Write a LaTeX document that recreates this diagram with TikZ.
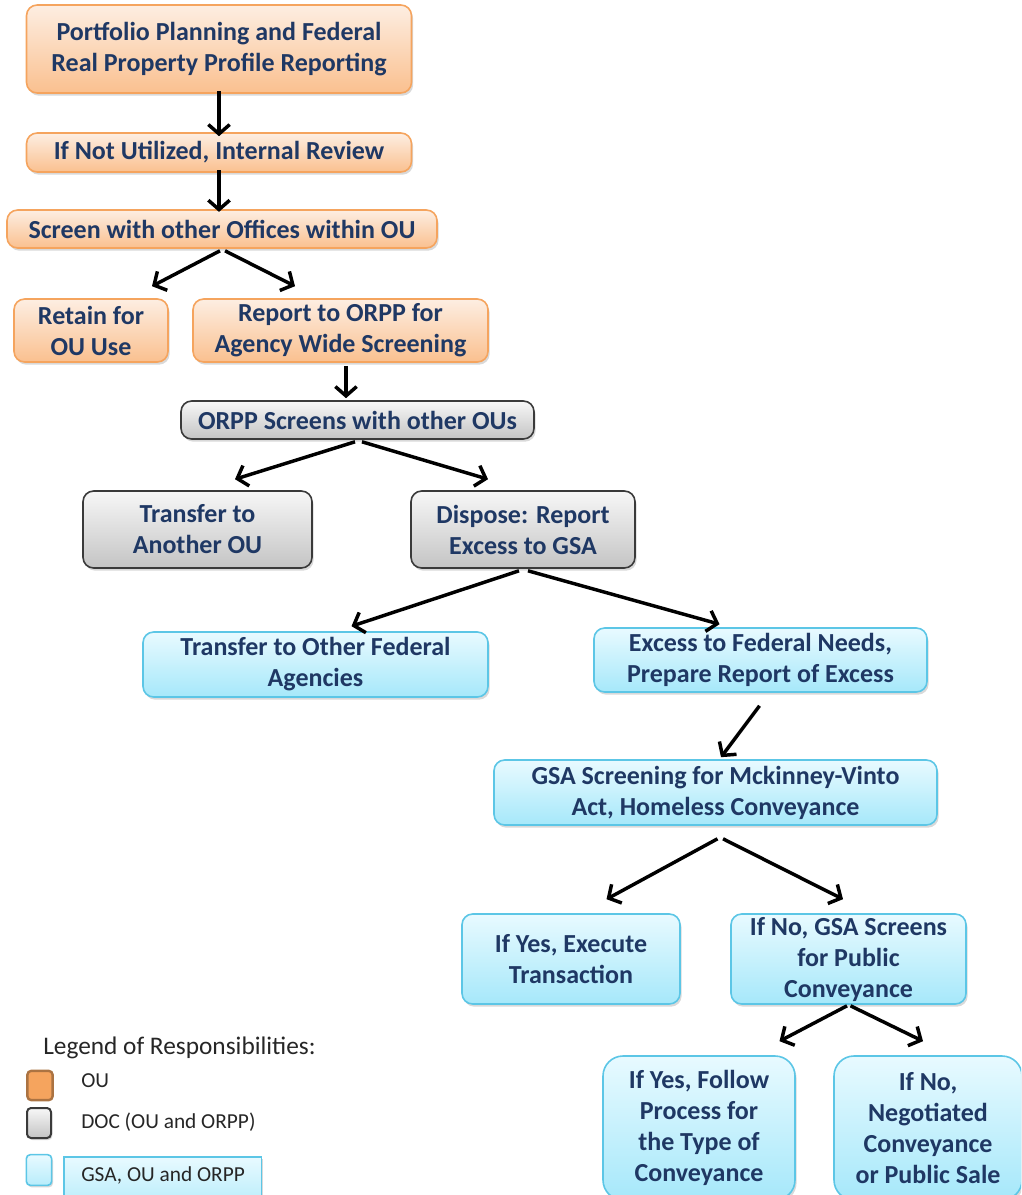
\documentclass[tikz,border=0pt]{standalone}
\usepackage{fontspec}
\setmainfont{Carlito}
\usetikzlibrary{arrows.meta,shadows}

\definecolor{txtblue}{HTML}{1F3864}
\definecolor{ouline}{HTML}{F5A45E}
\definecolor{outop}{HTML}{FDEEE2}
\definecolor{oubot}{HTML}{FAC08F}
\definecolor{docline}{HTML}{3A3A3A}
\definecolor{doctop}{HTML}{F7F7F7}
\definecolor{docbot}{HTML}{C4C4C4}
\definecolor{gsaline}{HTML}{5CC6E6}
\definecolor{gsatop}{HTML}{E8FAFF}
\definecolor{gsabot}{HTML}{A6E8FA}

\tikzset{
  box/.style={rectangle, rounded corners=8pt, align=center, inner sep=1pt,
    font=\fontsize{19.5}{23.25}\selectfont\bfseries, text=txtblue, line width=1.2pt,
    drop shadow={opacity=0.3, shadow xshift=1.2pt, shadow yshift=-2pt}},
  ouBox/.style={box, draw=ouline, top color=outop, bottom color=oubot},
  docBox/.style={box, draw=docline, top color=doctop, bottom color=docbot},
  gsaBox/.style={box, draw=gsaline, top color=gsatop, bottom color=gsabot},
  arr/.style={line width=2.6pt, -{Straight Barb[length=7pt,width=16pt]}},
  legtext/.style={anchor=west, inner sep=0pt, text=black!85}
}

\begin{document}
\begin{tikzpicture}[x=0.75pt,y=-0.75pt]
\useasboundingbox (0,0) rectangle (1021,1195);
\clip (0,0) rectangle (1021,1195);

% OU steps
\node[ouBox, minimum width=288.75pt, minimum height=66pt] (portfolio) at (219,49)
  {Portfolio Planning and Federal\\Real Property Profile Reporting};
\node[ouBox, minimum width=288.75pt, minimum height=29.25pt] (review) at (219,152.5)
  {If Not Utilized, Internal Review};
\node[ouBox, minimum width=322.5pt, minimum height=28.5pt] (screen) at (222,229)
  {Screen with other Offices within OU};
\node[ouBox, minimum width=115.5pt, minimum height=47.25pt] (retain) at (91,330.5)
  {Retain for\\OU Use};
\node[ouBox, minimum width=221.25pt, minimum height=47.25pt] (report) at (340.5,330.5)
  {Report to ORPP for\\Agency Wide Screening};

% DOC steps
\node[docBox, minimum width=264.75pt, minimum height=28.5pt] (orppscreen) at (357.5,420)
  {ORPP Screens with other OUs};
\node[docBox, minimum width=171.75pt, minimum height=57.75pt] (transfer) at (197.5,529.5)
  {Transfer to\\Another OU};
\node[docBox, minimum width=168pt, minimum height=57.75pt] (dispose) at (523,529.5)
  {Dispose: Report\\Excess to GSA};

% GSA steps
\node[gsaBox, minimum width=258.75pt, minimum height=48.75pt] (fedagency) at (315.5,664.5)
  {Transfer to Other Federal\\Agencies};
\node[gsaBox, minimum width=249.75pt, minimum height=48pt] (excess) at (760.5,660)
  {Excess to Federal Needs,\\Prepare Report of Excess};
\node[gsaBox, minimum width=332.25pt, minimum height=48.75pt] (mckinney) at (715.5,792.5)
  {GSA Screening for Mckinney-Vinto\\Act, Homeless Conveyance};
\node[gsaBox, minimum width=163.5pt, minimum height=67.5pt] (execute) at (571,959)
  {If Yes, Execute\\Transaction};
\node[gsaBox, minimum width=176.25pt, minimum height=67.5pt] (publicscreen) at (848.5,959)
  {If No, GSA Screens\\for Public\\Conveyance};
\node[gsaBox, rounded corners=15pt, minimum width=144pt, minimum height=108pt] (follow) at (699,1128)
  {If Yes, Follow\\Process for\\the Type of\\Conveyance};
\node[gsaBox, rounded corners=15pt, minimum width=141pt, minimum height=108pt] (negotiated) at (928,1128)
  {If No,\\Negotiated\\Conveyance\\or Public Sale};

% arrows
\draw[arr] ([yshift=2]portfolio.south) -- ([yshift=-3]review.north);
\draw[arr] ([yshift=2]review.south) -- ([yshift=-2]review.south |- screen.north);
\draw[arr] ([shift={(-2,2)}]screen.south) -- ([shift={(61,-12)}]retain.north);
\draw[arr] ([shift={(3,2)}]screen.south) -- ([shift={(-45.5,-12)}]report.north);
\draw[arr] ([shift={(5.5,3)}]report.south) -- ([shift={(-11.5,-2)}]orppscreen.north);
\draw[arr] ([shift={(-2.5,2)}]orppscreen.south) -- ([shift={(37.5,-11)}]transfer.north);
\draw[arr] ([shift={(4.5,2)}]orppscreen.south) -- ([shift={(-35,-11)}]dispose.north);
\draw[arr] ([shift={(-4,2)}]dispose.south) -- ([shift={(36,-5)}]fedagency.north);
\draw[arr] ([shift={(5,2)}]dispose.south) -- ([shift={(-41,-3)}]excess.north);
\draw[arr] ([shift={(-1,13)}]excess.south) -- ([shift={(5.5,-2)}]mckinney.north);
\draw[arr] ([shift={(2,13)}]mckinney.south) -- ([shift={(35.5,-14)}]execute.north);
\draw[arr] ([shift={(7.5,13)}]mckinney.south) -- ([shift={(-5.5,-14)}]publicscreen.north);
\draw[arr] ([shift={(-1.5,1)}]publicscreen.south) -- ([shift={(80.5,-14)}]follow.north);
\draw[arr] ([shift={(2,1)}]publicscreen.south) -- ([shift={(-5,-14)}]negotiated.north);

% legend
\node[legtext, font=\fontsize{19}{22}\selectfont] (legtitle) at (43,1048) {Legend of Responsibilities:};
\node[rectangle, rounded corners=3pt, draw=ouline!70!black, line width=1.8pt, fill=ouline,
  minimum width=19pt, minimum height=22pt] (legou) at (40,1085.5) {};
\node[rectangle, rounded corners=3pt, draw=docline, line width=1.5pt, top color=doctop, bottom color=docbot,
  minimum width=18pt, minimum height=22.5pt, drop shadow={opacity=0.3, shadow xshift=1pt, shadow yshift=-1.5pt}] (legdoc) at (39,1123) {};
\node[rectangle, rounded corners=3pt, draw=gsaline, line width=1.2pt, top color=gsatop, bottom color=gsabot!80!white,
  minimum width=19pt, minimum height=23pt, drop shadow={opacity=0.3, shadow xshift=1pt, shadow yshift=-1.5pt}] (leggsa) at (39,1170) {};
\node[rectangle, draw=gsaline, line width=1pt, top color=gsatop, bottom color=gsabot!80!white,
  minimum width=148pt, minimum height=36pt, drop shadow={opacity=0.3, shadow xshift=1pt, shadow yshift=-1.5pt}] (leggsabox) at (162.5,1181) {};
\node[legtext, font=\fontsize{16}{19}\selectfont] (legoutext) at (81,1081) {OU};
\node[legtext, font=\fontsize{16}{19}\selectfont] (legdoctext) at (81,1122) {DOC (OU and ORPP)};
\node[legtext, font=\fontsize{16}{19}\selectfont] (leggsatext) at (81,1175) {GSA, OU and ORPP};
\end{tikzpicture}
\end{document}
